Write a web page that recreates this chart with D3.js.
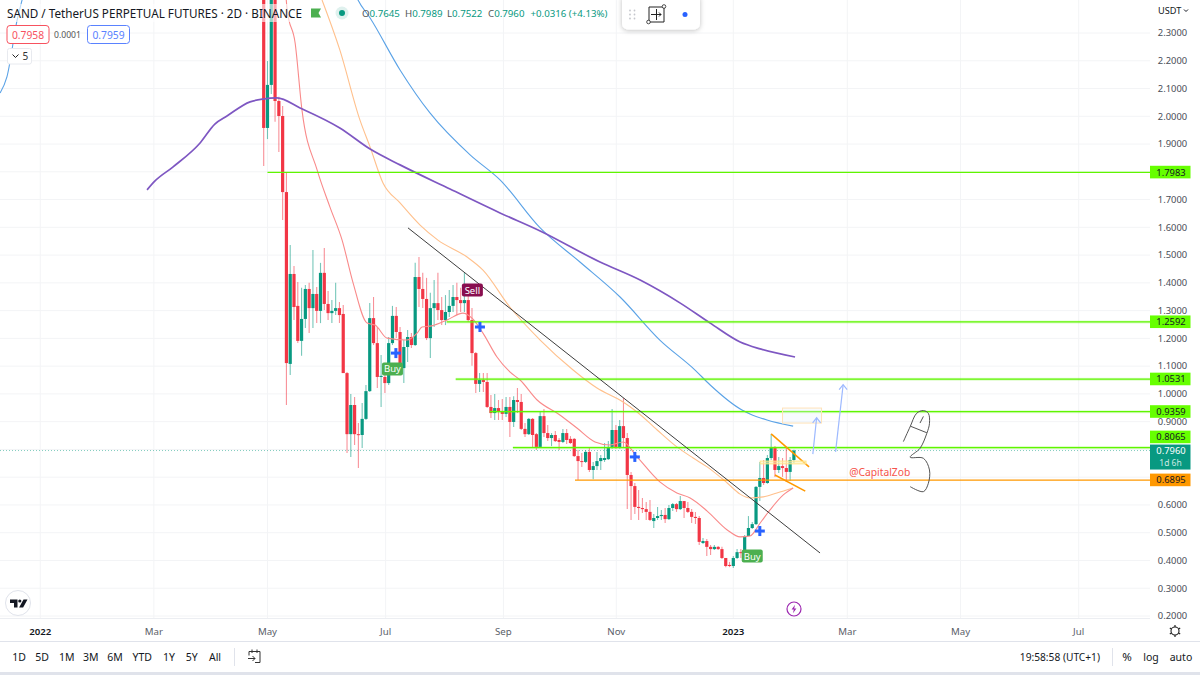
<!DOCTYPE html>
<html><head><meta charset="utf-8">
<style>html,body{margin:0;padding:0;background:#fff}svg{display:block}text{font-family:"Noto Sans",sans-serif}</style>
<script src="https://cdn.jsdelivr.net/npm/d3@7"></script></head>
<body><svg id="c" width="1200" height="675"></svg>
<script>
const opens=[2.90,1.958,2.113,2.95,2.055,2.001,1.727,1.108,1.432,1.317,1.191,1.270,1.378,1.309,1.360,1.299,1.436,1.324,1.291,1.299,
1.309,1.288,1.075,0.855,0.960,0.855,0.852,0.910,1.010,1.273,1.183,1.061,1.061,1.039,1.183,1.281,1.223,1.093,1.169,1.205,
1.176,1.421,1.378,1.342,1.201,1.309,1.327,1.302,1.266,1.295,1.317,1.349,1.338,1.327,1.338,1.266,1.147,1.036,1.050,1.043,
.953,.931,.949,.938,.928,.953,.899,.978,.971,.874,.855,.910,.855,.809,.920,.859,.841,.852,.834,.827,
.859,.838,.838,.776,.758,.755,.791,.726,.740,.758,.762,.765,.809,.870,.805,.884,.841,.708,.668,.593,
.589,.585,.575,.542,.553,.560,.564,.549,.589,.603,.585,.614,.589,.575,.557,.553,.463,.470,.449,.441,
.449,.441,.409,.384,.380,.409,.430,.427,.488,.517,.531,.665,.697,.679,.769,.805,.726,.740,.733,.719,.762];
const closes=[1.958,2.113,2.95,2.055,2.001,1.727,1.111,1.432,1.313,1.191,1.270,1.378,1.309,1.360,1.299,1.436,1.324,1.291,1.299,1.309,
1.284,1.075,0.855,0.960,0.855,0.852,0.910,1.010,1.273,1.183,1.061,1.065,1.039,1.183,1.281,1.223,1.093,1.169,1.205,1.176,
1.421,1.378,1.342,1.201,1.309,1.327,1.302,1.266,1.295,1.317,1.349,1.338,1.327,1.338,1.266,1.147,1.036,1.050,1.043,.953,
.931,.949,.935,.928,.953,.899,.978,.971,.874,.855,.910,.852,.809,.920,.859,.841,.852,.830,.827,.859,
.834,.823,.776,.758,.755,.791,.726,.740,.758,.769,.769,.809,.870,.805,.884,.841,.708,.668,.593,.589,
.585,.575,.546,.553,.560,.564,.549,.589,.603,.585,.614,.589,.575,.557,.553,.467,.470,.449,.441,.449,
.441,.409,.380,.380,.409,.430,.427,.488,.517,.531,.665,.697,.679,.769,.805,.726,.740,.733,.719,.762,.796];
const highs=[3.05,2.199,3.10,3.05,2.070,2.037,1.796,1.536,1.461,1.403,1.382,1.392,1.400,1.518,1.385,1.472,1.526,1.371,1.338,1.400,
1.331,1.320,1.079,1.000,0.989,0.895,0.967,1.032,1.327,1.349,1.241,1.140,1.104,1.205,1.317,1.313,1.241,1.194,1.230,1.219,
1.472,1.493,1.436,1.418,1.364,1.410,1.436,1.349,1.356,1.374,1.392,1.400,1.382,1.436,1.374,1.309,1.151,1.075,1.075,1.075,
.996,1.000,.978,.982,.989,.989,.992,1.021,1.000,.895,.913,.913,.859,.935,.946,.888,.859,.866,.841,.874,
.874,.848,.841,.798,.787,.798,.805,.755,.791,.780,.823,.830,.946,.888,.906,.985,.859,.719,.679,.654,
.625,.611,.618,.567,.593,.582,.589,.600,.607,.607,.632,.614,.611,.585,.575,.560,.481,.477,.456,.456,
.452,.449,.409,.395,.416,.441,.441,.492,.560,.539,.668,.755,.762,.780,.856,.812,.773,.769,.805,.773,.799];
const lows=[1.821,1.918,2.080,1.980,1.871,1.626,0.960,1.068,1.266,1.183,1.137,1.237,1.219,1.237,1.255,1.255,1.302,1.266,1.255,1.284,
1.255,1.075,0.787,0.773,0.816,0.733,0.805,0.906,1.007,1.176,1.021,0.953,1.003,1.032,1.176,1.201,1.075,1.039,1.115,1.165,
1.173,1.313,1.309,1.194,1.129,1.241,1.266,1.248,1.248,1.277,1.295,1.284,1.295,1.295,1.259,1.101,1.003,1.007,1.007,.949,
.913,.906,.906,.906,.917,.845,.881,.931,.870,.845,.852,.809,.798,.809,.845,.830,.812,.827,.798,.823,
.820,.820,.773,.690,.737,.751,.719,.693,.726,.726,.755,.762,.802,.802,.802,.805,.585,.546,.567,.546,
.571,.546,.542,.517,.546,.546,.535,.546,.578,.575,.582,.553,.571,.535,.531,.456,.459,.416,.420,.438,
.438,.405,.376,.376,.373,.405,.409,.412,.488,.513,.528,.614,.672,.676,.762,.701,.715,.701,.683,.686,.751];

const priceTicks=[2.3,2.2,2.1,2.0,1.9,1.8,1.7,1.6,1.5,1.4,1.3,1.2,1.1,1.0,0.9,0.8,0.7,0.6,0.5,0.4,0.3,0.2];
const timeLabels=["2022","Mar","May","Jul","Sep","Nov","2023","Mar","May","Jul"];
const timeBars=[-59,-29,1,32.2,63.3,93.1,124,154.1,184,215.2];

// [bar index, price]
const maPurple=[[-30.8,1.735],[-28.7,1.767],[-24,1.817],[-16.8,1.904],[-12.9,1.972],[-9.7,2.001],[-3.6,2.052],[-0.2,2.062],[3.5,2.066],[9.6,2.030],[20.1,1.958],[28.1,1.882],[36,1.825],[49.2,1.738],[62.4,1.652],[73,1.587],[88.8,1.475],[99.4,1.410],[110,1.327],[117.9,1.255],[125.8,1.187],[131.1,1.162],[140.3,1.133]];
const maBlue=[[-69.6,2.084],[-67.8,2.142],[-65.1,2.347],[-63.8,2.419],[-43,3.6],[-17,4.2],[9.6,3.4],[24.9,2.419],[28.1,2.354],[36,2.167],[43.9,2.012],[54.5,1.861],[62.4,1.771],[73,1.598],[83.5,1.475],[94.1,1.349],[104.6,1.194],[113.9,1.086],[117.9,1.032],[126.3,.942],[128.4,.928],[132.9,.906],[139.8,.884]];
const maOrange=[[15.4,2.419],[20.1,2.239],[25.4,1.987],[28.1,1.889],[31.5,1.760],[36,1.688],[41.3,1.608],[46,1.554],[53.7,1.493],[57.9,1.446],[65,1.313],[73,1.194],[81.7,1.086],[88,1.021],[94.9,.971],[98.6,.935],[103.9,.870],[109.1,.809],[113.4,.769],[117.1,.737],[122.4,.679],[125.8,.639],[128.4,.625],[131.9,.629],[135.5,.643],[139.8,.661]];
const maRed=[[4,3.0],[6.2,2.383],[8.3,2.264],[10.1,2.023],[14.1,1.807],[17.5,1.673],[20.7,1.554],[23.6,1.400],[27.3,1.255],[29.4,1.248],[32.6,1.201],[37.8,1.194],[40.5,1.219],[41.8,1.241],[44.4,1.245],[48.4,1.266],[52.6,1.291],[55,1.273],[57.9,1.219],[61.6,1.133],[65,1.079],[67.7,1.050],[72.2,.978],[78.2,.924],[82.7,.877],[87.5,.827],[91.4,.816],[94.9,.827],[98.6,.773],[104.6,.683],[109.1,.643],[112.6,.625],[117.1,.578],[122.4,.510],[125.8,.485],[128.4,.488],[131.1,.535],[133.7,.582],[137.2,.636],[139.8,.661]];

const greenLevels=[1.7983,1.2592,1.0531,0.9359,0.8065];
const greenStarts=[1,48.3,50.7,59.7,65.8];
const orangeLevel=0.6895, orangeStart=82.2, lastPrice=0.7960;
const trendLine=[[38.1,1.598],[146.9,.427]];
const wedgeTop=[[134,.856],[144,.737]], wedgeBottom=[[135,.708],[143,.650]];
const boxTarget=[[137,.949],[147.3,.895]], boxYellow=[[131.1,.758],[143.2,.748]];
const arrowNear=[[145,.783],[146,.914]], arrowFar=[[151,.791],[153,1.033]];
const scribbleA=[[168.9,.828],[170.7,.882],[172.4,.930],[174.2,.940],[175.5,.930],[175.8,.894],[175.1,.858],[173.3,.804],[170.7,.772],[174.2,.768],[175.8,.726],[175.5,.678],[174.2,.648],[170.7,.666]];
const scribbleBar=[[170.7,.884],[175.1,.860]], scribbleTick=[[173.3,.895],[174.2,.919]];
const crosses=[[34.9,1.147],[57.1,1.241],[98,.773],[131,.506]];
const signals=[["Sell",55.1,1.374,"#880e4f"],["Buy",34,1.090,"#4caf50"],["Buy",129,.416,"#4caf50"]];
const rangeButtons=["1D","5D","1M","3M","6M","YTD","1Y","5Y","All"];

const UP="#089981", DOWN="#f23645", GRID="#f3f4f6", TXT="#131722", LIME="#5ff500";
const W=1150, H=618;
const x=d3.scaleLinear().domain([0,140]).range([263.7,793.9]);
const y=d3.scaleLinear().domain([0.2,2.3]).range([616,33]);
const svg=d3.select("#c");
const defs=svg.append("defs");
defs.append("clipPath").attr("id","plot").append("rect").attr("width",W).attr("height",H);
const fl=defs.append("filter").attr("id","sh").attr("x","-20%").attr("y","-20%").attr("width","140%").attr("height","150%");
fl.append("feDropShadow").attr("dx",0).attr("dy",1).attr("stdDeviation",2.5).attr("flood-color","#000").attr("flood-opacity",.25);

const plot=svg.append("g").attr("clip-path","url(#plot)");
// grid
plot.append("g").selectAll("line").data(priceTicks).join("line").attr("x1",0).attr("x2",W).attr("y1",d=>y(d)).attr("y2",d=>y(d)).attr("stroke",GRID);
plot.append("g").selectAll("line").data(timeBars).join("line").attr("x1",d=>x(d)).attr("x2",d=>x(d)).attr("y1",0).attr("y2",H).attr("stroke",GRID);
// last price dotted
plot.append("line").attr("x1",0).attr("x2",W).attr("y1",y(lastPrice)).attr("y2",y(lastPrice)).attr("stroke",UP).attr("stroke-dasharray","1 2").attr("opacity",.5);

// candles
const bars=d3.range(opens.length);
const col=i=>closes[i]>=opens[i]?UP:DOWN;
plot.append("g").selectAll("line").data(bars).join("line")
 .attr("x1",i=>x(i)).attr("x2",i=>x(i))
 .attr("y1",i=>y(highs[i])).attr("y2",i=>y(lows[i]))
 .attr("stroke",col).attr("stroke-opacity",.55).attr("stroke-width",1.1);
plot.append("g").selectAll("rect").data(bars).join("rect")
 .attr("x",i=>x(i)-1.6).attr("width",3.2)
 .attr("y",i=>Math.min(y(opens[i]),y(closes[i])))
 .attr("height",i=>Math.max(1,Math.abs(y(opens[i])-y(closes[i]))))
 .attr("fill",col);

// moving averages
const ln=d3.line().x(d=>x(d[0])).y(d=>y(d[1])).curve(d3.curveMonotoneX);
const mas=[[maBlue,"#5aa2e6",1.1],[maOrange,"#ffc08c",1.1],[maRed,"#f98a8a",1.1],[maPurple,"#7e57c2",1.7]];
plot.append("g").selectAll("path").data(mas).join("path").attr("d",d=>ln(d[0])).attr("fill","none").attr("stroke",d=>d[1]).attr("stroke-width",d=>d[2]);

// horizontal levels
const lg=plot.append("g");
greenLevels.forEach((p,i)=>{
  if(i>0) lg.append("line").attr("x1",x(greenStarts[i])).attr("x2",W).attr("y1",y(p)).attr("y2",y(p)).attr("stroke",LIME).attr("stroke-opacity",.2).attr("stroke-width",3);
  lg.append("line").attr("x1",x(greenStarts[i])).attr("x2",W).attr("y1",y(p)).attr("y2",y(p)).attr("stroke",LIME).attr("stroke-width",1.2);
});
lg.append("line").attr("x1",x(orangeStart)).attr("x2",W).attr("y1",y(orangeLevel)).attr("y2",y(orangeLevel)).attr("stroke","#ff9800").attr("stroke-width",1.2);

// drawings
const seg=(a,c,w)=>plot.append("line").attr("x1",x(a[0][0])).attr("y1",y(a[0][1])).attr("x2",x(a[1][0])).attr("y2",y(a[1][1])).attr("stroke",c).attr("stroke-width",w);
seg(trendLine,"#3d3d3d",1);
seg(wedgeTop,"#ff9800",1.5); seg(wedgeBottom,"#ff9800",1.5);
const box=(b,fill,op,st)=>plot.append("rect").attr("x",x(b[0][0])).attr("y",y(b[0][1])).attr("width",x(b[1][0])-x(b[0][0])).attr("height",y(b[1][1])-y(b[0][1])).attr("fill",fill).attr("fill-opacity",op).attr("stroke",st);
box(boxTarget,"#e3f2ff",.3,"#ffe2b8");
box(boxYellow,"#fff3b0",.6,"#ffe48a");
[arrowNear,arrowFar].forEach(a=>{
  seg(a,"#9db9ff",1.2);
  const tx=x(a[1][0]),ty=y(a[1][1]);
  plot.append("path").attr("d",`M${tx-4},${ty+5}L${tx},${ty}L${tx+4},${ty+5}`).attr("fill","none").attr("stroke","#9db9ff").attr("stroke-width",1.2);
});
const sl=d3.line().x(d=>x(d[0])).y(d=>y(d[1])).curve(d3.curveCatmullRom);
[scribbleA,scribbleBar,scribbleTick].forEach(s=>plot.append("path").attr("d",sl(s)).attr("fill","none").attr("stroke","#555").attr("stroke-width",1));
plot.append("text").attr("x",x(154.6)).attr("y",y(.7195)).attr("dy",4).attr("font-size",10.3).attr("fill","#f5534a").text("@CapitalZob");

// signals and crosses
const sg=plot.append("g").selectAll("g").data(signals).join("g").attr("transform",d=>`translate(${x(d[1])},${y(d[2])})`);
sg.append("rect").attr("x",-10.5).attr("y",-6.5).attr("width",21).attr("height",13).attr("rx",2).attr("fill",d=>d[3]);
sg.append("text").attr("text-anchor","middle").attr("y",3.5).attr("font-size",9.5).attr("fill","#fff").text(d=>d[0]);
const cg=plot.append("g").selectAll("g").data(crosses).join("g").attr("transform",d=>`translate(${x(d[0])},${y(d[1])})`);
cg.append("rect").attr("x",-5).attr("y",-1.5).attr("width",10).attr("height",3).attr("fill","#2962ff");
cg.append("rect").attr("x",-1.5).attr("y",-5).attr("width",3).attr("height",10).attr("fill","#2962ff");

// price axis
const levelAll=greenLevels.concat([orangeLevel,lastPrice]);
const axG=svg.append("g");
axG.selectAll("text").data(priceTicks.filter(t=>!levelAll.some(l=>Math.abs(y(l)-y(t))<9))).join("text")
 .attr("x",1172.5).attr("y",d=>y(d)+3.3).attr("text-anchor","middle").attr("font-size",9.4).attr("fill","#4a4e58").text(d=>d.toFixed(4));
axG.append("text").attr("x",1158).attr("y",14).attr("font-size",9.2).attr("fill",TXT).text("USDT");
axG.append("path").attr("d","M1184,9.5l2,2l2,-2").attr("fill","none").attr("stroke",TXT);
const lab=(p,c,lift)=>{
  axG.append("rect").attr("x",1150).attr("y",y(p)-6.5-lift).attr("width",40.5).attr("height",12.6).attr("fill",c);
  axG.append("text").attr("x",1171).attr("y",y(p)+3.3-lift).attr("text-anchor","middle").attr("font-size",9.4).attr("fill",TXT).text(p.toFixed(4));
};
greenLevels.forEach(p=>lab(p,"#66ff00",p===0.8065?10.5:0));
lab(orangeLevel,"#ff9800",0);
axG.append("rect").attr("x",1150).attr("y",y(lastPrice)-6).attr("width",40.5).attr("height",25).attr("fill",UP);
axG.append("text").attr("x",1171).attr("y",y(lastPrice)+3.5).attr("text-anchor","middle").attr("font-size",9.4).attr("fill","#fff").text(lastPrice.toFixed(4));
axG.append("text").attr("x",1170.5).attr("y",y(lastPrice)+15).attr("text-anchor","middle").attr("font-size",8.5).attr("fill","#cde9e4").text("1d 6h");

// time axis
const tg=svg.append("g");
tg.append("line").attr("x1",0).attr("x2",W).attr("y1",618.5).attr("y2",618.5).attr("stroke","#eceef2");
tg.selectAll("text").data(timeBars).join("text").attr("x",d=>x(d)).attr("y",635).attr("text-anchor","middle").attr("font-size",9.7)
 .attr("fill",(d,i)=>/^\d/.test(timeLabels[i])?TXT:"#5a5e68").attr("font-weight",(d,i)=>/^\d/.test(timeLabels[i])?600:400).text((d,i)=>timeLabels[i]);
// gear
const gear=svg.append("g").attr("transform","translate(1175,631)");
gear.append("circle").attr("r",4).attr("fill","none").attr("stroke","#222").attr("stroke-width",1.1);
gear.selectAll("line").data(d3.range(6)).join("line").attr("x1",0).attr("x2",0).attr("y1",-4).attr("y2",-6).attr("stroke","#222").attr("stroke-width",1.2).attr("transform",d=>`rotate(${d*60})`);

// bottom bar
svg.append("line").attr("x1",0).attr("x2",1200).attr("y1",641.5).attr("y2",641.5).attr("stroke","#e0e3eb");
svg.append("rect").attr("x",0).attr("y",672).attr("width",1200).attr("height",3).attr("fill","#e0e3eb");
const btnX=[19,42,66.7,90.7,115,142.3,169,191.7,215];
svg.append("g").selectAll("text").data(rangeButtons).join("text").attr("x",(d,i)=>btnX[i]).attr("y",660.5).attr("text-anchor","middle").attr("font-size",10.5).attr("fill",TXT).text(d=>d);
svg.append("line").attr("x1",234.5).attr("x2",234.5).attr("y1",648).attr("y2",666).attr("stroke","#e0e3eb");
svg.append("path").attr("d","M249,651.5h11v11h-5M249,651.5v4M252,649.5v3.5M257,649.5v3.5M248,658.5h7m-2.5,-2.5l2.5,2.5l-2.5,2.5").attr("fill","none").attr("stroke","#333").attr("stroke-width",1);
const bt=(s,xp,a,fs)=>svg.append("text").attr("x",xp).attr("y",660.5).attr("text-anchor",a).attr("font-size",fs||10.5).attr("fill",TXT).text(s);
bt("19:58:58 (UTC+1)",1100,"end",10.2);
svg.append("line").attr("x1",1112.5).attr("x2",1112.5).attr("y1",648).attr("y2",666).attr("stroke","#e0e3eb");
bt("%",1127,"middle",11.5); bt("log",1151,"middle",10.5); bt("auto",1181,"middle",10.5);

// TV logo
const logo=svg.append("g").attr("transform","translate(18,603)");
logo.append("circle").attr("r",12.5).attr("fill","#fff").attr("stroke","#e0e3eb");
logo.append("path").attr("d","M-8,-3.5h7.5v8h-3.5v-4.6h-4zM5.5,-3.5h4l-4.4,8h-4z").attr("fill","#131722");
logo.append("circle").attr("cx",1.8).attr("cy",-2).attr("r",1.6).attr("fill","#131722");

// lightning badge
const lb=svg.append("g").attr("transform","translate(794,609)");
lb.append("circle").attr("r",7).attr("fill","#fff").attr("stroke","#9c27b0").attr("stroke-width",1.2);
lb.append("path").attr("d","M1,-4.2L-2.4,.6H-.2L-1,4.2L2.4,-.6H.2Z").attr("fill","#9c27b0");

// header
svg.append("rect").attr("x",4).attr("y",4).attr("width",300).attr("height",18).attr("fill","#fff").attr("opacity",.6);
svg.append("text").attr("x",7).attr("y",17.5).attr("font-size",11.7).attr("fill",TXT).text("SAND / TetherUS PERPETUAL FUTURES · 2D · BINANCE");
svg.append("path").attr("d","M311,8.5h10l-2.5,4.5l2.5,4.5h-10z").attr("fill","#4caf50");
svg.append("circle").attr("cx",342).attr("cy",13).attr("r",6.5).attr("fill","#dff1ee");
svg.append("circle").attr("cx",342).attr("cy",13).attr("r",3).attr("fill",UP);
const ohlc=[["O","0.7645",362],["H","0.7989",405],["L","0.7522",447],["C","0.7960",488]];
ohlc.forEach(d=>{
  const t=svg.append("text").attr("x",d[2]).attr("y",17).attr("font-size",9.7);
  t.append("tspan").attr("fill","#555").text(d[0]);
  t.append("tspan").attr("fill",UP).text(d[1]);
});
svg.append("text").attr("x",530.5).attr("y",17).attr("font-size",9.7).attr("fill",UP).text("+0.0316 (+4.13%)");

// bid/ask boxes
const pb=(xp,w,c,s)=>{
 svg.append("rect").attr("x",xp+.5).attr("y",25.5).attr("width",w).attr("height",18).attr("rx",3).attr("fill","#fff").attr("stroke",c);
 svg.append("text").attr("x",xp+w/2+.5).attr("y",38.5).attr("text-anchor","middle").attr("font-size",10.3).attr("fill",c).text(s);
};
pb(6.5,42,"#f7525f","0.7958"); pb(87,42,"#5a82ff","0.7959");
svg.append("text").attr("x",67.5).attr("y",38).attr("text-anchor","middle").attr("font-size",8.6).attr("fill","#555").text("0.0001");
svg.append("rect").attr("x",7.5).attr("y",48.5).attr("width",24).attr("height",15.5).attr("rx",2).attr("fill","#fff").attr("stroke","#e8eaef");
svg.append("path").attr("d","M12.5,54.5l3,3l3,-3").attr("fill","none").attr("stroke","#222");
svg.append("text").attr("x",22.5).attr("y",60).attr("font-size",10).attr("fill","#333").text("5");

// floating toolbar
svg.append("rect").attr("x",622).attr("y",-6).attr("width",78).attr("height",35.5).attr("rx",6).attr("fill","#fff").attr("filter","url(#sh)");
svg.append("g").selectAll("circle").data(d3.range(6)).join("circle").attr("cx",d=>630+(d%2)*4.5).attr("cy",d=>10.5+Math.floor(d/2)*4).attr("r",.9).attr("fill","#c4c6cc");
svg.append("path").attr("d","M649,7h15v15h-15zM656.5,9v11M651,14.5h10m-2,-2l2,2l-2,2").attr("fill","none").attr("stroke","#222").attr("stroke-width",1);
[[648.5,22],[664,6.5]].forEach(p=>svg.append("circle").attr("cx",p[0]).attr("cy",p[1]).attr("r",1.8).attr("fill","#fff").attr("stroke","#222").attr("stroke-width",.8));
svg.append("circle").attr("cx",685).attr("cy",14.5).attr("r",2.5).attr("fill","#2962ff");
</script></body></html>
